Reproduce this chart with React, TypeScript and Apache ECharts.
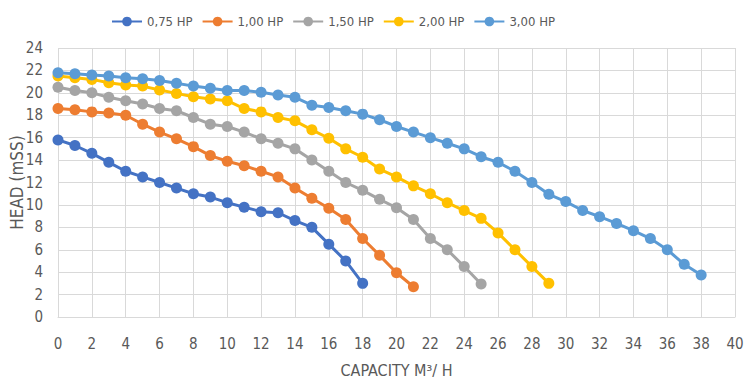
import React, { useEffect, useRef } from "react";
import * as echarts from "echarts";

const capacity = [0,1,2,3,4,5,6,7,8,9,10,11,12,13,14,15,16,17,18,19,20,21,22,23,24,25,26,27,28,29,30,31,32,33,34,35,36,37,38];
const seriesNames = ["0,75 HP", "1,00 HP", "1,50 HP", "2,00 HP", "3,00 HP"];
const head075 = [15.8,15.3,14.6,13.8,13.0,12.5,12.0,11.5,11.0,10.7,10.2,9.8,9.4,9.3,8.6,8.0,6.5,5.0,3.0];
const head100 = [18.6,18.5,18.3,18.2,18.0,17.2,16.5,15.9,15.2,14.4,13.9,13.5,13.0,12.5,11.5,10.6,9.7,8.7,7.0,5.5,3.95,2.7];
const head150 = [20.5,20.2,20.0,19.6,19.3,19.0,18.6,18.4,17.8,17.2,17.0,16.5,15.9,15.5,15.0,14.0,13.0,12.0,11.3,10.5,9.75,8.7,7.0,6.0,4.5,2.95];
const head200 = [21.5,21.35,21.2,20.9,20.7,20.6,20.25,19.95,19.65,19.45,19.3,18.6,18.3,17.8,17.5,16.7,15.95,15.0,14.25,13.2,12.5,11.7,11.0,10.2,9.5,8.8,7.5,6.0,4.5,3.0];
const head300 = [21.8,21.7,21.6,21.5,21.35,21.25,21.1,20.85,20.6,20.4,20.2,20.2,20.05,19.8,19.6,18.9,18.7,18.4,18.1,17.6,17.0,16.5,16.0,15.5,15.0,14.3,13.8,13.0,12.0,10.95,10.3,9.5,8.95,8.35,7.7,7.0,6.0,4.7,3.75];
const colors = ["#4472C4", "#ED7D31", "#A5A5A5", "#FFC000", "#5B9BD5"];

const FONT = "'Liberation Sans Narrow', 'DejaVu Sans Condensed', Roboto, sans-serif";
const TXT = "#595959";

export default function App() {
  const ref = useRef<HTMLDivElement>(null);
  useEffect(() => {
    if (!ref.current) return;
    const chart = echarts.init(ref.current, undefined, { renderer: "svg" });
    const all = [head075, head100, head150, head200, head300];
    chart.setOption({
      animation: false,
      textStyle: { fontFamily: FONT, color: TXT },
      legend: {
        top: 10,
        left: 106,
        itemWidth: 30,
        itemHeight: 12,
        itemGap: 9,
        textStyle: { fontFamily: FONT, color: TXT, fontSize: 13 },
        data: seriesNames,
      },
      grid: { left: 58, right: 15, top: 48, bottom: 70, outerBoundsMode: "none", containLabel: false },
      xAxis: {
        type: "value",
        min: 0,
        max: 40,
        interval: 2,
        name: "CAPACITY M³/ H",
        nameLocation: "middle",
        nameGap: 45,
        nameMoveOverlap: false,
        nameTextStyle: { fontFamily: FONT, color: TXT, fontSize: 16 },
        axisLine: { show: true, lineStyle: { color: "#d9d9d9", width: 1 } },
        axisTick: { show: false },
        axisLabel: { color: TXT, fontFamily: FONT, fontSize: 15, margin: 19 },
        splitLine: { show: true, lineStyle: { color: "#d9d9d9", width: 1 } },
      },
      yAxis: {
        type: "value",
        min: 0,
        max: 24,
        interval: 2,
        name: "HEAD (mSS)",
        nameLocation: "middle",
        nameGap: 33,
        nameMoveOverlap: false,
        nameRotate: 90,
        nameTextStyle: { fontFamily: FONT, color: TXT, fontSize: 17 },
        axisLine: { show: false },
        axisTick: { show: false },
        axisLabel: { color: TXT, fontFamily: FONT, fontSize: 15, margin: 15 },
        splitLine: { show: true, lineStyle: { color: "#d9d9d9", width: 1 } },
      },
      series: all.map((vals, i) => ({
        name: seriesNames[i],
        type: "line",
        data: vals.map((v, j) => [capacity[j], v]),
        symbol: "circle",
        symbolSize: 11,
        lineStyle: { width: 3, color: colors[i] },
        itemStyle: { color: colors[i] },
      })),
    });
    return () => chart.dispose();
  }, []);
  return <div ref={ref} style={{ width: 750, height: 387, position: "absolute", left: 0, top: 0 }} />;
}
